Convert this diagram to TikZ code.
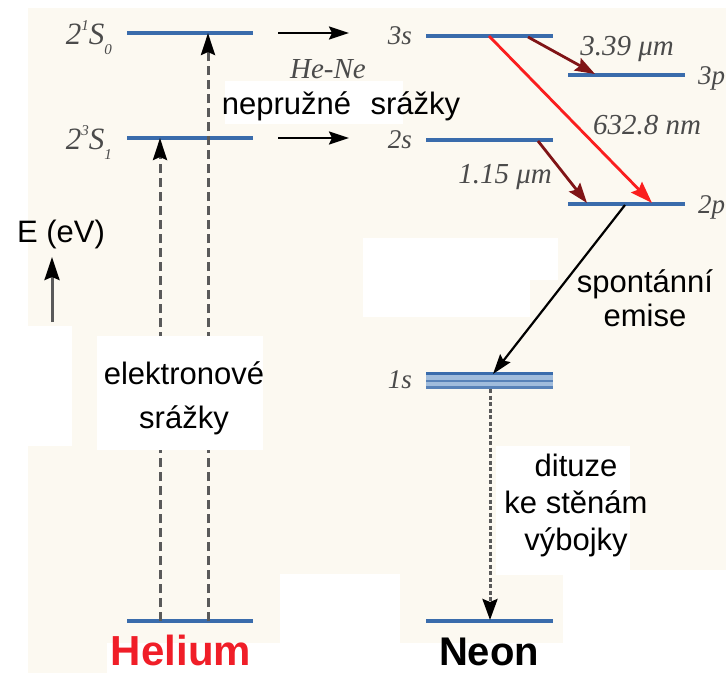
\documentclass[tikz,border=0pt]{standalone}
\usepackage{fontspec}
\setmainfont{Liberation Serif}
\setsansfont{Liberation Sans}
\usetikzlibrary{arrows.meta}
\definecolor{cream}{RGB}{252,249,241}
\definecolor{lvl}{RGB}{58,108,172}
\definecolor{lvllight}{RGB}{160,188,220}
\definecolor{darkred}{RGB}{128,20,22}
\definecolor{labgray}{RGB}{75,75,75}
\definecolor{dashgray}{RGB}{90,90,90}
\definecolor{hered}{RGB}{240,30,40}
\definecolor{laser}{RGB}{250,30,30}
\begin{document}
\begin{tikzpicture}[x=1pt,y=-1pt,
  level/.style={draw=lvl,line width=3.5pt},
  sanslab/.style={font=\sffamily\fontsize{31}{36}\selectfont,inner sep=0pt,align=center},
  itlab/.style={font=\itshape\fontsize{29}{34}\selectfont,text=labgray,inner sep=0pt},
  lvllab/.style={font=\itshape\fontsize{27}{30}\selectfont,text=labgray,inner sep=0pt},
  blackarrow/.style={draw=black,line width=2.2pt,-{Stealth[length=20pt,width=13pt,inset=3pt]}},
  dasharrow/.style={draw=dashgray,line width=3pt,dash pattern=on 9pt off 5pt,-{Stealth[length=22pt,width=14pt,inset=3pt,black]}},
  dotarrow/.style={draw=dashgray,line width=3pt,dash pattern=on 4pt off 2.5pt,-{Stealth[length=21pt,width=15pt,inset=3pt,black]}},
  redarrow/.style={draw=laser,line width=2.8pt,-{Stealth[length=22pt,width=15pt,inset=3pt]}},
  drarrow/.style={draw=darkred,line width=2.8pt,-{Stealth[length=20pt,width=14pt,inset=3pt]}},
  eaxis/.style={draw=dashgray,line width=3pt,-{Stealth[length=23pt,width=15pt,inset=3pt,black]}}
]
\useasboundingbox (0,0) rectangle (726,673);
\clip (0,0) rectangle (726,673);
% background
\fill[white] (0,0) rectangle (726,673);
\fill[cream] (28,8) rectangle (726,643);
\fill[cream] (28,643) rectangle (107,673);
\fill[white] (0,326) rectangle (72,446);
\fill[white] (225,81) rectangle (403,124);
\fill[white] (363,238) rectangle (530,317);
\fill[white] (363,238) rectangle (558,280);
\fill[white] (496,446) rectangle (630,575);
\fill[white] (280,574) rectangle (400,673);
\fill[white] (563,570) rectangle (726,673);

% Helium levels
\draw[level] (127,33) -- (253,33);
\draw[level] (127,138) -- (253,138);
\draw[level] (127,621) -- (253,621);
% Neon levels
\draw[level] (426,36) -- (553,36);
\draw[level] (426,140) -- (553,140);
\draw[level] (568,75) -- (685,75);
\draw[level] (568,204) -- (685,204);
\draw[level] (426,621) -- (553,621);
% 1s band
\fill[lvllight] (426,372) rectangle (553,389);
\draw[draw=lvl,line width=2.4pt] (426,373.5) -- (553,373.5);
\draw[draw=lvl!85,line width=2.2pt] (426,381) -- (553,381);
\draw[draw=lvl!85,line width=2.2pt] (426,387.5) -- (553,387.5);

% coordinates
\coordinate (heS0) at (208,33);
\coordinate (heS1) at (160,138);
\coordinate (heG1) at (160,621);
\coordinate (heG0) at (208,621);
\coordinate (tA1) at (278,33);
\coordinate (tA2) at (349,33);
\coordinate (tB1) at (278,138);
\coordinate (tB2) at (349,138);
\coordinate (eB) at (52,322);
\coordinate (eT) at (52,257);
\coordinate (r1) at (489,36);
\coordinate (r2) at (652,203);
\coordinate (d1) at (528,37);
\coordinate (d2) at (595,74);
\coordinate (f1) at (538,141);
\coordinate (f2) at (587,203);
\coordinate (s1) at (625,205);
\coordinate (s2) at (493,374);
\coordinate (g1) at (490,389);
\coordinate (g2) at (490,620);

% arrows
\draw[dasharrow] (heG1) -- (heS1);
\draw[dasharrow] (heG0) -- (heS0);
\fill[white] (97,336) rectangle (263,450);
\draw[blackarrow] (tA1) -- (tA2);
\draw[blackarrow] (tB1) -- (tB2);
\draw[eaxis] (eB) -- (eT);
\draw[redarrow] (r1) -- (r2);
\draw[drarrow] (d1) -- (d2);
\draw[drarrow] (f1) -- (f2);
\draw[blackarrow] (s1) -- (s2);
\draw[dotarrow] (g1) -- (g2);

% level labels
\node[lvllab,anchor=base east] (l21) at (112,44) {\fontsize{31}{34}\selectfont 2\raisebox{0.42em}{\fontsize{15}{15}\selectfont 1}S\raisebox{-0.35em}{\fontsize{15}{15}\selectfont 0}};
\node[lvllab,anchor=base east] (l23) at (112,149) {\fontsize{31}{34}\selectfont 2\raisebox{0.42em}{\fontsize{15}{15}\selectfont 3}S\raisebox{-0.35em}{\fontsize{15}{15}\selectfont 1}};
\node[lvllab,anchor=base east] (l3s) at (412,44) {3s};
\node[lvllab,anchor=base east] (l2s) at (412,148) {2s};
\node[lvllab,anchor=base east] (l1s) at (412,388) {1s};
\node[lvllab,anchor=base west] (l3p) at (698,84) {3p};
\node[lvllab,anchor=base west] (l2p) at (698,213) {2p};

% transition labels
\node[itlab,anchor=base] (w339) at (627,55) {3.39 μm};
\node[itlab,anchor=base] (w632) at (647,134) {632.8 nm};
\node[itlab,anchor=base] (w115) at (505,183) {1.15 μm};
\node[itlab,anchor=base] (hene) at (328,78) {He-Ne};

% sans labels
\node[sanslab,anchor=base] (nepr) at (341,114) {nepružné\hspace{0.35em} srážky};
\node[sanslab,anchor=base] (eev) at (61,242) {E (eV)};
\node[sanslab,anchor=base,font=\sffamily\fontsize{31}{44}\selectfont] (elek) at (184,428) {elektronové\\srážky};
\node[sanslab,anchor=base,font=\sffamily\fontsize{31}{34}\selectfont] (spon) at (645,326) {spontánní\\emise};
\node[sanslab,anchor=base,font=\sffamily\fontsize{31}{37}\selectfont] (difu) at (576,550) {dituze\\ke stěnám\\výbojky};
\node[font=\sffamily\bfseries\fontsize{42}{44}\selectfont,text=hered,inner sep=0pt,anchor=base] (hel) at (181,665) {Helium};
\node[font=\sffamily\bfseries\fontsize{40}{44}\selectfont,text=black,inner sep=0pt,anchor=base] (neo) at (489,665) {Neon};
\end{tikzpicture}
\end{document}
